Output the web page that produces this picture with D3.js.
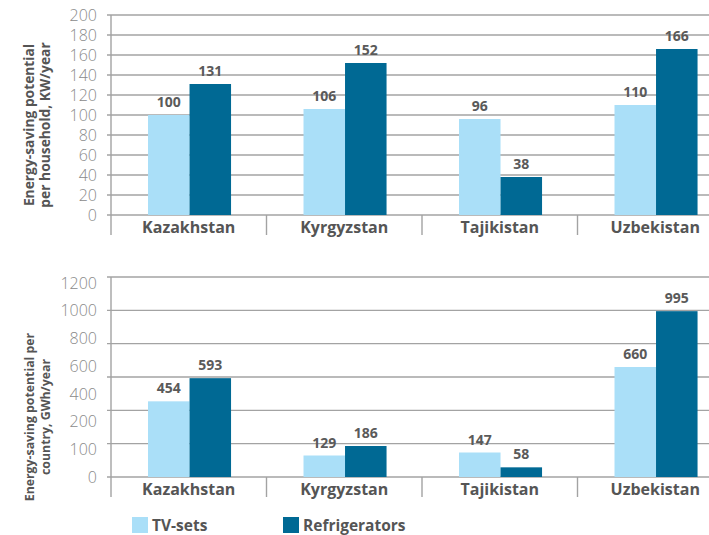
<!DOCTYPE html>
<html lang="en">
<head>
    <meta charset="UTF-8">
    <title>energy saving</title>
    <script src="https://cdn.jsdelivr.net/npm/d3@7"></script>
    <style>
        body { margin: 0; background: #fff; }
        text { font-family: "Open Sans", sans-serif; }
    </style>
</head>
<body>
<svg width="709" height="535" xmlns="http://www.w3.org/2000/svg" id="my-svg"></svg>
<script>
    // data
    const countries = ["Kazakhstan", "Kyrgyzstan", "Tajikistan", "Uzbekistan"];
    const series = ["TV-sets", "Refrigerators"];
    const tvHousehold = [100, 106, 96, 110];
    const fridgeHousehold = [131, 152, 38, 166];
    const tvCountry = [454, 129, 147, 660];
    const fridgeCountry = [593, 186, 58, 995];
    const topTicks = [0, 20, 40, 60, 80, 100, 120, 140, 160, 180, 200];
    const bottomGrid = [0, 200, 400, 600, 800, 1000, 1200];
    // the source prints these labels spread evenly, not on the gridlines
    const bottomLabels = ["0", "100", "200", "400", "600", "800", "1000", "1200"];

    const colors = ["#aadff8", "#006994"];
    const svg = d3.select("#my-svg");

    const x0 = d3.scaleBand().domain(countries).range([111, 733]);
    const bw = x0.bandwidth();
    const x1 = d3.scaleBand().domain(series).range([bw * 0.238, bw * 0.772]);
    const color = d3.scaleOrdinal().domain(series).range(colors);

    function panel(opt) {
        const g = svg.append("g");
        const y = opt.y;
        const base = y(0);

        // gridlines
        g.selectAll(".grid").data(opt.grid).enter().append("line")
            .attr("x1", 107).attr("x2", 709)
            .attr("y1", d => y(d)).attr("y2", d => y(d))
            .attr("stroke", "#a3a3a3").attr("stroke-width", 1.4);

        // y axis line
        g.append("line")
            .attr("x1", 111).attr("x2", 111)
            .attr("y1", y.range()[1]).attr("y2", base + 20)
            .attr("stroke", "#a3a3a3").attr("stroke-width", 1.4);

        // category separators
        g.selectAll(".sep").data(countries.slice(1)).enter().append("line")
            .attr("x1", d => x0(d)).attr("x2", d => x0(d))
            .attr("y1", base).attr("y2", base + 20)
            .attr("stroke", "#a3a3a3").attr("stroke-width", 1.4);

        // tick labels
        g.selectAll(".tick").data(opt.labels).enter().append("text")
            .attr("x", 97)
            .attr("y", d => opt.labelY(d))
            .attr("dy", "0.36em")
            .attr("text-anchor", "end")
            .attr("font-size", 16)
            .attr("font-weight", 300)
            .attr("fill", "#8a8a8a")
            .text(d => d);

        // bars
        const rows = countries.map((c, i) => ({
            country: c,
            vals: [{s: series[0], v: opt.a[i]}, {s: series[1], v: opt.b[i]}]
        }));
        const grp = g.selectAll(".grp").data(rows).enter().append("g")
            .attr("transform", d => "translate(" + x0(d.country) + ",0)");
        grp.selectAll("rect").data(d => d.vals).enter().append("rect")
            .attr("x", d => x1(d.s))
            .attr("width", x1.bandwidth())
            .attr("y", d => y(d.v))
            .attr("height", d => base - y(d.v))
            .attr("fill", d => color(d.s));
        grp.selectAll(".val").data(d => d.vals).enter().append("text")
            .attr("x", d => x1(d.s) + x1.bandwidth() / 2)
            .attr("y", d => y(d.v) - 8)
            .attr("text-anchor", "middle")
            .attr("font-size", 14)
            .attr("font-weight", 700)
            .attr("fill", "#5a5a5a")
            .text(d => d.v);

        // category labels
        g.selectAll(".cat").data(countries).enter().append("text")
            .attr("x", d => x0(d) + bw / 2)
            .attr("y", base + 18)
            .attr("text-anchor", "middle")
            .attr("font-size", 16)
            .attr("font-weight", 700)
            .attr("fill", "#555")
            .text(d => d);

        // axis title
        const t = g.append("text")
            .attr("transform", "translate(" + 41.5 + "," + opt.titleY + ") rotate(-90)")
            .attr("text-anchor", "middle")
            .attr("font-size", opt.titleSize)
            .attr("font-weight", 700)
            .attr("fill", "#555");
        t.append("tspan").attr("x", 0).attr("dy", -8).text(opt.title[0]);
        t.append("tspan").attr("x", 0).attr("dy", 16).text(opt.title[1]);
    }

    const yTop = d3.scaleLinear().domain([0, 200]).range([215, 15]);
    panel({
        y: yTop,
        grid: topTicks,
        labels: topTicks,
        labelY: d => yTop(d),
        a: tvHousehold,
        b: fridgeHousehold,
        title: ["Energy-saving potential", "per household, KW/year"],
        titleY: 125,
        titleSize: 13.8
    });

    const yBot = d3.scaleLinear().domain([0, 1200]).range([477, 277]);
    const labelPos = d3.scalePoint().domain(bottomLabels).range([477, 283]);
    panel({
        y: yBot,
        grid: bottomGrid,
        labels: bottomLabels,
        labelY: d => labelPos(d),
        a: tvCountry,
        b: fridgeCountry,
        title: ["Energy-saving potential per", "country, GWh/year"],
        titleY: 417,
        titleSize: 12.3
    });

    // legend
    const legX = d3.scaleOrdinal().domain(series).range([132, 283]);
    const leg = svg.selectAll(".leg").data(series).enter().append("g")
        .attr("transform", d => "translate(" + legX(d) + ",517)");
    leg.append("rect")
        .attr("width", 16).attr("height", 16)
        .attr("fill", d => color(d));
    leg.append("text")
        .attr("x", 20).attr("y", 14)
        .attr("font-size", 15.5)
        .attr("font-weight", 700)
        .attr("fill", "#555")
        .text(d => d);
</script>
</body>
</html>
